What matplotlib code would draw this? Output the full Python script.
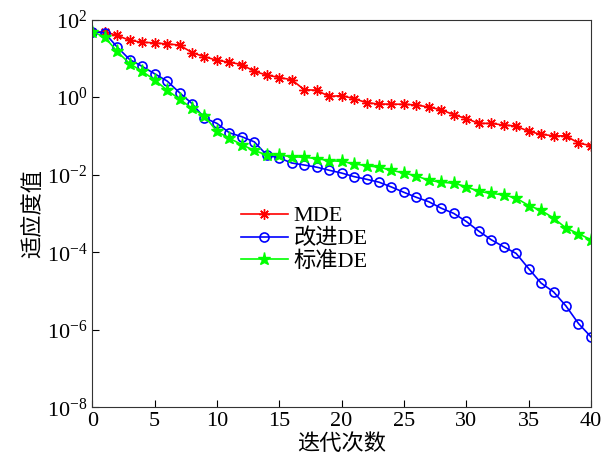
import matplotlib
matplotlib.use('Agg')
import matplotlib.pyplot as plt
import numpy as np

plt.rcParams['font.family'] = ['Liberation Serif', 'Noto Sans CJK SC']
plt.rcParams['mathtext.fontset'] = 'stix'

iters = np.arange(0, 41)

mde = [49, 48, 39, 29, 26, 25, 23.5, 22, 14, 11,
       8.9, 7.9, 6.9, 4.6, 3.7, 3.2, 2.8, 1.55, 1.5, 1.04,
       1.09, 0.91, 0.72, 0.66, 0.66, 0.65, 0.63, 0.55, 0.47, 0.35,
       0.28, 0.21, 0.21, 0.19, 0.18, 0.13, 0.11, 0.10, 0.10, 0.065,
       0.056]

improved_de = [49, 45, 19.5, 9.3, 6.2, 4.0, 2.6, 1.3, 0.68, 0.29,
               0.21, 0.12, 0.095, 0.07, 0.032, 0.027, 0.020, 0.0177, 0.0156, 0.013,
               0.011, 0.0089, 0.0076, 0.0064, 0.0048, 0.0035, 0.0026, 0.002, 0.00136, 0.001,
               6.2e-4, 3.5e-4, 2.1e-4, 1.38e-4, 9.3e-5, 3.8e-5, 1.6e-5, 9.5e-6, 4.1e-6, 1.45e-6,
               6.6e-7]

standard_de = [49, 35, 15, 7.3, 4.6, 2.8, 1.5, 0.89, 0.51, 0.33,
               0.13, 0.087, 0.059, 0.042, 0.032, 0.032, 0.029, 0.028, 0.026, 0.023,
               0.022, 0.019, 0.017, 0.0156, 0.013, 0.011, 0.0093, 0.0071, 0.0064, 0.006,
               0.0049, 0.0037, 0.0033, 0.003, 0.0025, 0.0016, 0.0012, 7.6e-4, 4.2e-4, 3.0e-4,
               2.1e-4]

fig = plt.figure(figsize=(6.03, 4.65), dpi=100)
ax = fig.add_axes([0.153, 0.124, 0.827, 0.834])

ax.semilogy(iters, mde, color='red', marker=(8, 2, 0), markersize=7.5, linewidth=1.2, label='MDE')
ax.semilogy(iters, improved_de, color='blue', marker='o', markersize=6.5, markerfacecolor='none',
            markeredgewidth=1.2, linewidth=1.2, label='改进DE')
ax.semilogy(iters, standard_de, color='#00ff00', marker='*', markersize=9.5, linewidth=1.2, label='标准DE')

ax.set_xlim(0, 40)
ax.set_ylim(1e-8, 1e2)
ax.set_xticks(np.arange(0, 41, 5))
ax.set_yticks([1e-8, 1e-6, 1e-4, 1e-2, 1e0, 1e2])
ax.tick_params(which='both', direction='in', top=False, right=False, labelsize=16)
ax.tick_params(which='major', length=5)
ax.tick_params(which='minor', length=3)
ax.tick_params(axis='x', which='minor', bottom=False)
for s in ax.spines.values():
    s.set_color('#333333')

ax.set_xlabel('迭代次数', fontsize=16, labelpad=2)
ax.set_ylabel('适应度值', fontsize=16, labelpad=2)

ax.legend(loc='center', bbox_to_anchor=(0.425, 0.434), frameon=False, fontsize=16,
          handlelength=2.1, labelspacing=0.1, borderpad=0.2, handletextpad=0.25)

fig.savefig('out.png', dpi=100)
